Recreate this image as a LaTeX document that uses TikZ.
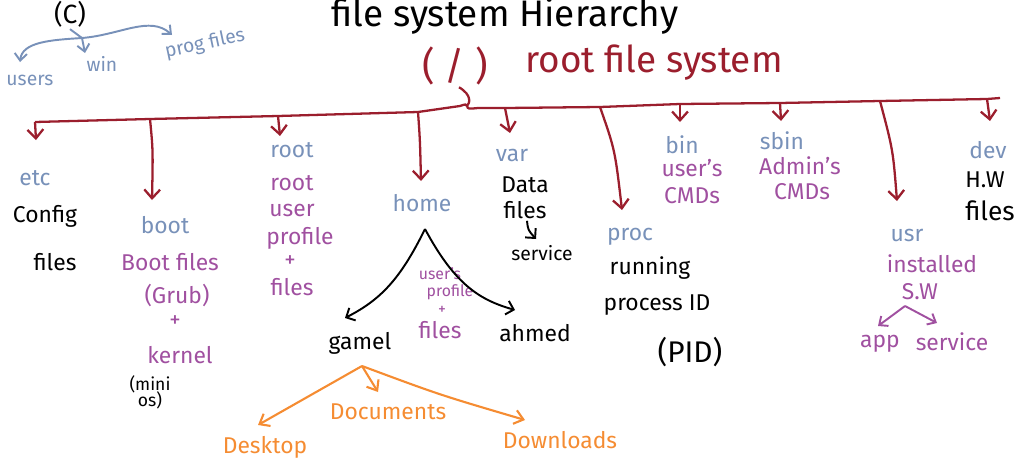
\documentclass[tikz,border=0pt]{standalone}
\usepackage{fontspec}
\setmainfont{Fira Sans}
\usetikzlibrary{arrows.meta}
\definecolor{busred}{RGB}{155,30,45}
\definecolor{dirblue}{RGB}{120,145,185}
\definecolor{notepurple}{RGB}{160,80,160}
\definecolor{orng}{RGB}{245,140,50}
\begin{document}
\begin{tikzpicture}[x=0.02cm,y=-0.02cm,
  lbl/.style={font=\fontsize{13}{15}\selectfont, inner sep=1pt},
  dir/.style={lbl,text=dirblue},
  note/.style={lbl,text=black},
  pnote/.style={lbl,text=notepurple},
  onote/.style={lbl,text=orng},
  bigtext/.style={font=\fontsize{21}{23}\selectfont, inner sep=1pt},
  bus/.style={draw=busred,line width=1.3pt},
  drop/.style={bus,-{Straight Barb[length=5pt,width=9pt]}},
  barrow/.style={draw=dirblue,line width=1.1pt,-{Straight Barb[length=4pt,width=7pt]}},
  karrow/.style={draw=black,line width=1.1pt,-{Straight Barb[length=4pt,width=8pt]}},
  parrow/.style={draw=notepurple,line width=1.1pt,-{Straight Barb[length=4pt,width=7pt]}},
  oarrow/.style={draw=orng,line width=1.2pt,-{Straight Barb[length=5pt,width=8pt]}}]
\useasboundingbox (0,0) rectangle (1016,470);

% title
\node[bigtext] (title) at (505,16) {file system Hierarchy};

% C drive
\node[note,font=\fontsize{15}{17}\selectfont] (cdrive) at (70,14) {(C)};
\coordinate (cj) at (82,38);
\node[dir,font=\fontsize{11}{13}\selectfont] (users) at (30,80) {users};
\node[dir,font=\fontsize{11}{13}\selectfont] (win) at (102,64) {win};
\node[dir,font=\fontsize{11}{13}\selectfont,rotate=12] (progf) at (205,44) {prog files};
\draw[draw=dirblue,line width=1.1pt] (cdrive.south) -- (cj);
\draw[barrow] (cj) .. controls (50,40) and (22,42) .. (20,62);
\draw[barrow] (cj) -- (85,53);
\draw[barrow] (cj) .. controls (120,35) and (150,15) .. (172,35);

% root
\node[text=busred,bigtext,font=\fontsize{22}{24}\selectfont] (slash) at (455,66) {( / )};
\node[text=busred,bigtext] (rootfs) at (654,63) {root file system};

% bus
\coordinate (cEtc) at (35,122);
\coordinate (cBoot) at (150,119);
\coordinate (cRoot) at (278,116);
\coordinate (cHome) at (418,112);
\coordinate (cBrace) at (467,106);
\coordinate (cVar) at (505,108);
\coordinate (cProc) at (600,107);
\coordinate (cBin) at (680,104);
\coordinate (cSbin) at (780,103);
\coordinate (cUsr) at (880,101);
\coordinate (cDev) at (987,99);
\draw[bus] (cEtc) -- (cBoot) -- (cRoot) -- (cHome) -- (460,106) .. controls (466,104) .. (cBrace);
\draw[bus] (cBrace) .. controls (468,109) .. (478,108) -- (cVar) -- (cProc) -- (cBin) -- (cSbin) -- (cUsr) -- (cDev) -- (1000,98);
\draw[bus] (slash.south) ++(4,0) .. controls (472,95) and (470,103) .. (cBrace);

% etc
\node[dir] (etc) at (35,178) {etc};
\node[note] (config) at (45,216) {Config};
\node[note] (configfiles) at (55,262) {files};
\draw[drop] (cEtc) -- (36,140);

% boot
\node[dir] (boot) at (165,225) {boot};
\node[pnote] (bootfiles) at (170,262) {Boot files};
\node[pnote] (grub) at (177,295) {(Grub)};
\node[pnote] (plusb) at (175,322) {+};
\node[pnote] (kernel) at (180,355) {kernel};
\node[note,font=\fontsize{10}{11}\selectfont,align=center,inner sep=0pt] (minios) at (150,392) {(mini\\[-2pt]os)};
\draw[drop] (cBoot) .. controls (153,150) .. (152,200);

% root dir
\node[dir] (rootdir) at (292,150) {root};
\node[pnote] (r1) at (292,183) {root};
\node[pnote] (r2) at (292,210) {user};
\node[pnote] (r3) at (300,238) {profile};
\node[pnote] (r4) at (290,262) {+};
\node[pnote] (r5) at (292,287) {files};
\draw[drop] (cRoot) -- (280,136);

% home
\node[dir] (home) at (422,203) {home};
\coordinate (hj) at (425,229);
\node[note] (gamel) at (360,343) {gamel};
\node[note] (ahmed) at (535,333) {ahmed};
\node[pnote,font=\fontsize{9}{10}\selectfont,inner sep=0pt] (h1) at (440,274) {user's};
\node[pnote,font=\fontsize{9}{10}\selectfont,inner sep=0pt] (h2) at (450,292) {profile};
\node[pnote,font=\fontsize{9}{10}\selectfont,inner sep=0pt] (h3) at (442,310) {+};
\node[pnote,inner sep=0pt] (h4) at (440,330) {files};
\draw[drop] (cHome) .. controls (420,140) .. (421,181);
\draw[karrow] (hj) .. controls (400,280) and (380,300) .. (345,318);
\draw[karrow] (hj) .. controls (455,285) and (480,300) .. (515,310);

% gamel's folders
\coordinate (gj) at (362,366);
\node[onote] (desktop) at (265,447) {Desktop};
\node[onote] (documents) at (388,412) {Documents};
\node[onote] (downloads) at (560,440) {Downloads};
\draw[oarrow] (gj) -- (258,425);
\draw[oarrow] (gj) -- (378,392);
\draw[oarrow] (gj) .. controls (440,395) .. (525,420);

% var
\node[dir] (var) at (512,155) {var};
\node[note] (data) at (525,185) {Data};
\node[note] (datafiles) at (525,210) {files};
\node[note,font=\fontsize{11}{13}\selectfont] (service) at (542,253) {service};
\draw[drop] (cVar) -- (510,133);
\draw[karrow] (datafiles.south) ++(2,0) .. controls (528,230) .. (536,239);

% proc
\node[dir] (proc) at (630,237) {proc};
\node[note] (running) at (650,268) {running};
\node[note] (processid) at (657,305) {process ID};
\node[note,font=\fontsize{17}{19}\selectfont] (pid) at (690,352) {(PID)};
\draw[drop] (cProc) .. controls (615,150) .. (622,210);

% bin
\node[dir] (bin) at (682,145) {bin};
\node[pnote] (bin1) at (692,168) {user's};
\node[pnote] (bin2) at (692,196) {CMDs};
\draw[drop] (cBin) -- (680,122);

% sbin
\node[dir,inner sep=0pt] (sbin) at (782,141) {sbin};
\node[pnote,inner sep=0pt] (sbin1) at (800,166) {Admin's};
\node[pnote,inner sep=0pt] (sbin2) at (802,192) {CMDs};
\draw[drop] (cSbin) -- (781,121);

% usr
\node[dir] (usr) at (907,235) {usr};
\node[pnote] (installed) at (932,264) {installed};
\node[pnote] (sw) at (920,292) {S.W};
\coordinate (uj) at (905,306);
\node[pnote] (app) at (880,344) {app};
\node[pnote] (usrservice) at (952,342) {service};
\draw[drop] (cUsr) .. controls (893,150) .. (897,201);
\draw[parrow] (uj) -- (878,326);
\draw[parrow] (uj) -- (937,323);

% dev
\node[dir] (dev) at (988,150) {dev};
\node[note] (hw) at (985,180) {H.W};
\node[note,font=\fontsize{15}{17}\selectfont] (hwfiles) at (990,211) {files};
\draw[drop] (cDev) -- (990,121);
\end{tikzpicture}
\end{document}
